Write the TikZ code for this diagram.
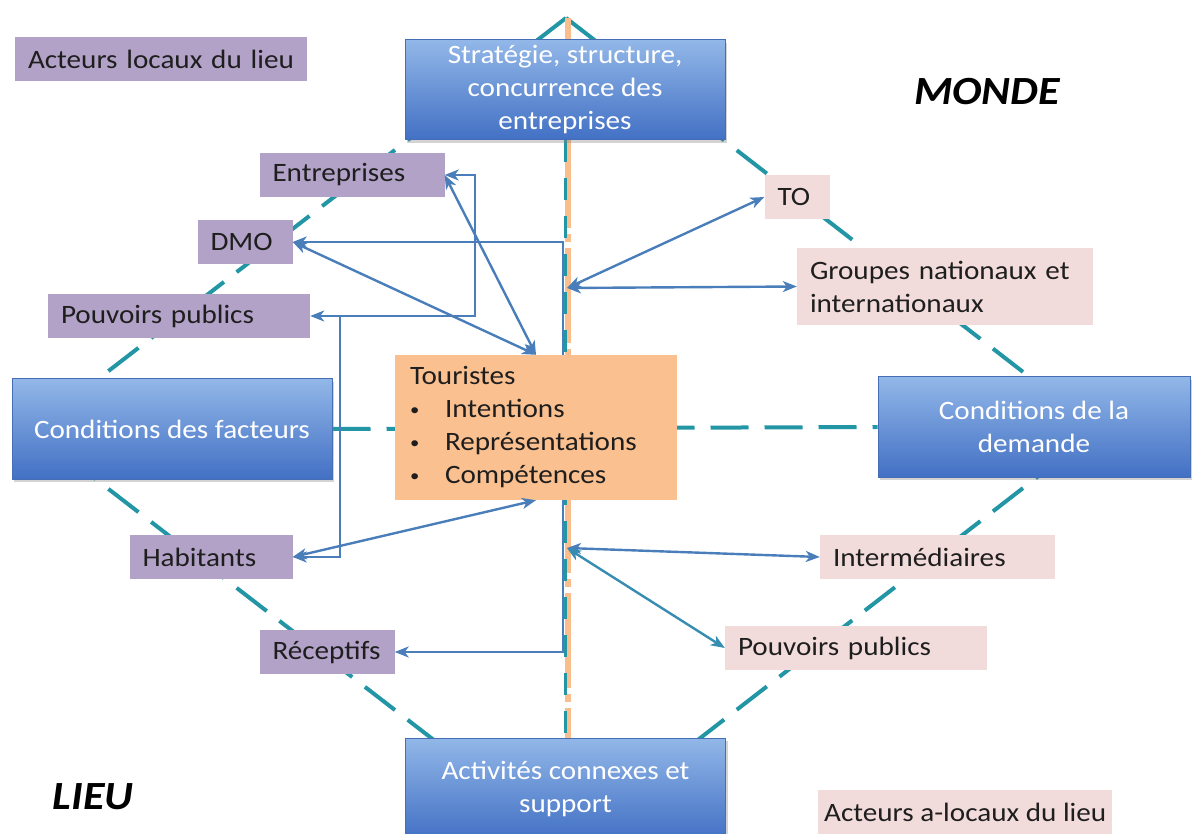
\documentclass[tikz,border=0pt]{standalone}
\usepackage{fontspec}
\setmainfont{Carlito}[FakeStretch=1.1]
\usepackage{tikz}
\usetikzlibrary{arrows.meta}
\usetikzlibrary{shadows}
\definecolor{forcetop}{RGB}{146,183,232}
\definecolor{forcebottom}{RGB}{66,112,196}
\definecolor{forceedge}{RGB}{70,110,180}
\definecolor{lieufill}{RGB}{178,162,199}
\definecolor{mondefill}{RGB}{242,220,219}
\definecolor{touristfill}{RGB}{250,192,144}
\definecolor{axisorange}{RGB}{250,190,140}
\definecolor{axisteal}{RGB}{35,150,165}
\definecolor{linkblue}{RGB}{74,126,187}
\definecolor{linkteal}{RGB}{55,140,178}
\definecolor{ink}{RGB}{30,30,30}
\pgfdeclarelayer{background}
\pgfsetlayers{background,main}
\newcommand{\tbullet}{\makebox[35pt][l]{\raisebox{2pt}{\fontsize{17}{17}\selectfont\textbullet}}}
\tikzset{
    basebox/.style = {rectangle, inner sep=0pt, font=\fontsize{26.5}{33}\selectfont},
    forcebox/.style = {basebox, align=center, draw=forceedge, line width=1pt, top color=forcetop, bottom color=forcebottom, text=white, minimum width=320pt, minimum height=100pt, drop shadow={shadow xshift=2pt, shadow yshift=-3pt, opacity=0.35}},
    lieubox/.style = {basebox, align=left, fill=lieufill, text=ink, inner xsep=13pt, minimum height=44pt},
    mondebox/.style = {basebox, align=left, fill=mondefill, text=ink, inner xsep=13pt, minimum height=44pt},
    touristbox/.style = {basebox, align=left, fill=touristfill, text=ink, inner xsep=15pt, text width=252pt, minimum height=145pt},
    region/.style = {inner sep=0pt, font=\fontsize{40}{48}\selectfont\bfseries\itshape, text=black}
}
\tikzset{
    linkarrow/.style = {draw=linkblue, line width=2.4pt},
    diamondline/.style = {draw=axisteal, line width=4pt, dash pattern=on 38pt off 16pt},
    crossline/.style = {draw=axisteal, line width=4pt, dash pattern=on 38pt off 16pt},
    orangeline/.style = {draw=axisorange, line width=6.5pt, dash pattern=on 95pt off 6pt on 8pt off 6pt},
    tealaxis/.style = {draw=axisteal, line width=3pt, dash pattern=on 22pt off 16pt}
}
\begin{document}
\begin{tikzpicture}
            [x=1pt, y=-1pt, >={Stealth[length=14pt, width=11pt, inset=4pt]}]

            \useasboundingbox (0,0) rectangle (1195,834);

            \node [forcebox] (strategie) at (565,90) {Stratégie, structure,\\concurrence des\\entreprises};
            \node [forcebox] (facteurs) at (172,429) {Conditions des facteurs};
            \node [forcebox, minimum width=312pt] (demande) at (1034,427) {Conditions de la\\demande};
            \node [forcebox, minimum height=102pt] (activites) at (565.5,789) {Activités connexes et\\support};

            \node [touristbox] (touristes) at (536,427.5)
                {Touristes\\
                \tbullet Intentions\\
                \tbullet Représentations\\
                \tbullet Compétences};

            \node [lieubox, text width=266pt] (acteurs) at (161,59) {Acteurs locaux du lieu};
            \node [lieubox, text width=159pt] (entreprises) at (352,175) {Entreprises};
            \node [lieubox, text width=69pt] (dmo) at (245,242) {DMO};
            \node [lieubox, text width=236pt] (pouvoirsL) at (179,316) {Pouvoirs publics};
            \node [lieubox, text width=137pt] (habitants) at (211,557) {Habitants};
            \node [lieubox, text width=109pt] (receptifs) at (327,652) {Réceptifs};

            \node [mondebox, text width=39pt] (to) at (797,197) {TO};
            \node [mondebox, text width=270pt, minimum height=77pt] (groupes) at (945,286.5) {Groupes nationaux et\\internationaux};
            \node [mondebox, text width=209pt] (intermediaires) at (937.5,557) {Intermédiaires};
            \node [mondebox, text width=236pt] (pouvoirsR) at (856,648) {Pouvoirs publics};
            \node [mondebox, anchor=west, inner xsep=6pt, minimum width=294pt] (alocaux) at (818,812) {Acteurs a-locaux du lieu};

            \node [region] (monde) at (987,92) {MONDE};
            \node [region] (lieu) at (93,797) {LIEU};

            \coordinate (apexN) at (566,18);
            \coordinate (apexW) at (32,430);
            \coordinate (apexE) at (1098,430);
            \coordinate (apexS) at (566,842);
            \coordinate (dmocorner) at (563,242);
            \coordinate (rcpcorner) at (563,652);
            \coordinate (entcorner) at (475,175);
            \coordinate (pubcorner) at (475,316);
            \coordinate (habbranch) at (340,316);
            \coordinate (hubN) at (567,288);
            \coordinate (hubS) at (567,548);

            \begin{pgfonlayer}{background}
                \draw [diamondline] (apexN) -- (apexW);
                \draw [diamondline] (apexN) -- (apexE);
                \draw [diamondline] (apexS) -- (apexW);
                \draw [diamondline] (apexS) -- (apexE);
                \draw [crossline] (facteurs.east) -- (demande.west);
                \draw [orangeline] ([xshift=2pt]apexN) -- ([xshift=2pt]apexN |- activites.north);
                \draw [tealaxis] ([xshift=-0.5pt]apexN |- strategie.south) -- ([xshift=-0.5pt]apexN |- activites.north);
                \draw [linkarrow, <->] (dmo.east) -- (dmocorner) -- (rcpcorner) -- (receptifs.east);
            \end{pgfonlayer}

            \draw [linkarrow, <->] (entreprises.east) -- (touristes.north);
            \draw [linkarrow, <->] (dmo.east) -- (touristes.north);
            \draw [linkarrow, <->] (entreprises.east) -- (entcorner) -- (pubcorner) -- (pouvoirsL.east);
            \draw [linkarrow, ->] (habbranch) |- (habitants.east);
            \draw [linkarrow, <->] (habitants.east) -- (touristes.south);

            \draw [linkarrow, <->] (hubN) -- (to.west);
            \draw [linkarrow, <->] (hubN) -- (groupes.west);
            \draw [linkarrow, <->] (hubS) -- (intermediaires.west);
            \draw [linkarrow, draw=linkteal, <->] (hubS) -- (pouvoirsR.west);
\end{tikzpicture}
\end{document}
